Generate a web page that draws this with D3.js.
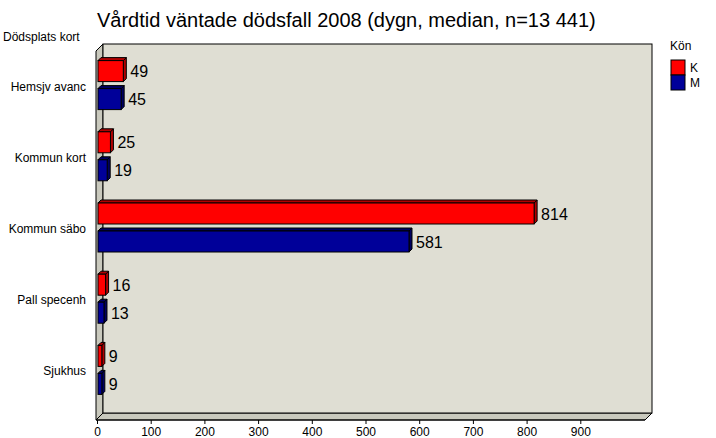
<!DOCTYPE html>
<html><head><meta charset="utf-8">
<script src="https://cdn.jsdelivr.net/npm/d3@7"></script>
<style>body{margin:0;background:#fff}text{font-family:"Liberation Sans",Arial,sans-serif}</style>
</head><body><svg id="c" width="716" height="438"></svg>
<script>
const categories = ["Hemsjv avanc", "Kommun kort", "Kommun säbo", "Pall specenh", "Sjukhus"];
const valuesK = [49, 25, 814, 16, 9];
const valuesM = [45, 19, 581, 13, 9];
const ticks = [0, 100, 200, 300, 400, 500, 600, 700, 800, 900];

const svg = d3.select("#c");
const depth = 7; // 3D offset of the back wall
const x = d3.scaleLinear().domain([0, 1000]).range([97, 634]);
const y = d3.scaleBand().domain(categories).range([51, 407]);
const pLeft = 96, pRight = 645, pTop = 44, pBottom = 420;

svg.append("text").attr("x", 97).attr("y", 27).attr("font-size", 20).text("Vårdtid väntade dödsfall 2008 (dygn, median, n=13 441)");
svg.append("text").attr("x", 3).attr("y", 41).attr("font-size", 12).text("Dödsplats kort");

// walls
svg.append("polygon").attr("points", [[pLeft, pTop + depth], [pLeft + depth, pTop], [pLeft + depth, pBottom - depth], [pLeft, pBottom]].join(" "))
  .attr("fill", "#c9c9bd").attr("stroke", "#000");
svg.append("polygon").attr("points", [[pLeft, pBottom], [pLeft + depth, pBottom - depth], [pRight + depth, pBottom - depth], [pRight, pBottom]].join(" "))
  .attr("fill", "#c9c9bd").attr("stroke", "#000");
svg.append("rect").attr("x", pLeft + depth).attr("y", pTop).attr("width", pRight - pLeft).attr("height", pBottom - depth - pTop)
  .attr("fill", "#dfded3").attr("stroke", "#000");

// x axis
const ax = svg.append("g").attr("transform", `translate(0,${pBottom})`)
  .call(d3.axisBottom(x).tickValues(ticks).tickSize(4).tickSizeOuter(0));
ax.select(".domain").attr("d", `M${pLeft},0H${pRight}`);
ax.selectAll("text").attr("font-size", 12).attr("fill", "#000").attr("font-family", "Liberation Sans, Arial");

// category labels
svg.selectAll(".cat").data(categories).join("text")
  .attr("x", 86).attr("y", d => y(d) + y.bandwidth() / 2 + 4).attr("text-anchor", "end")
  .attr("font-size", 12).text(d => d);

function bar3d(g, v, yTop, fill, dark) {
  const x0 = x(0) + 1, x1 = x(v), h = 21, d = 3;
  g.append("polygon").attr("points", [[x1, yTop], [x1 + d, yTop - d], [x1 + d, yTop + h - d], [x1, yTop + h]].join(" "))
    .attr("fill", dark).attr("stroke", "#000");
  g.append("polygon").attr("points", [[x0, yTop], [x0 + d, yTop - d], [x1 + d, yTop - d], [x1, yTop]].join(" "))
    .attr("fill", dark).attr("stroke", "#000");
  g.append("rect").attr("x", x0).attr("y", yTop).attr("width", x1 - x0).attr("height", h)
    .attr("fill", fill).attr("stroke", "#000");
  g.append("text").attr("x", x1 + d + 4).attr("y", yTop + h / 2 + 6).attr("font-size", 16).text(v);
}
const bars = svg.append("g");
categories.forEach((c, i) => {
  const cy = y(c) + y.bandwidth() / 2;
  bar3d(bars, valuesK[i], cy - 26, "#ff0000", "#b00000");
  bar3d(bars, valuesM[i], cy + 2, "#000099", "#000060");
});

// legend
const lg = svg.append("g").attr("transform", "translate(670,40)");
lg.append("text").attr("x", 0).attr("y", 10).attr("font-size", 12).text("Kön");
[["K", "#ff0000"], ["M", "#000099"]].forEach(([k, c], i) => {
  lg.append("rect").attr("x", 1).attr("y", 20 + i * 15).attr("width", 14).attr("height", 15).attr("fill", c).attr("stroke", "#000");
  lg.append("text").attr("x", 20).attr("y", 32 + i * 15).attr("font-size", 12).text(k);
});
</script></body></html>
